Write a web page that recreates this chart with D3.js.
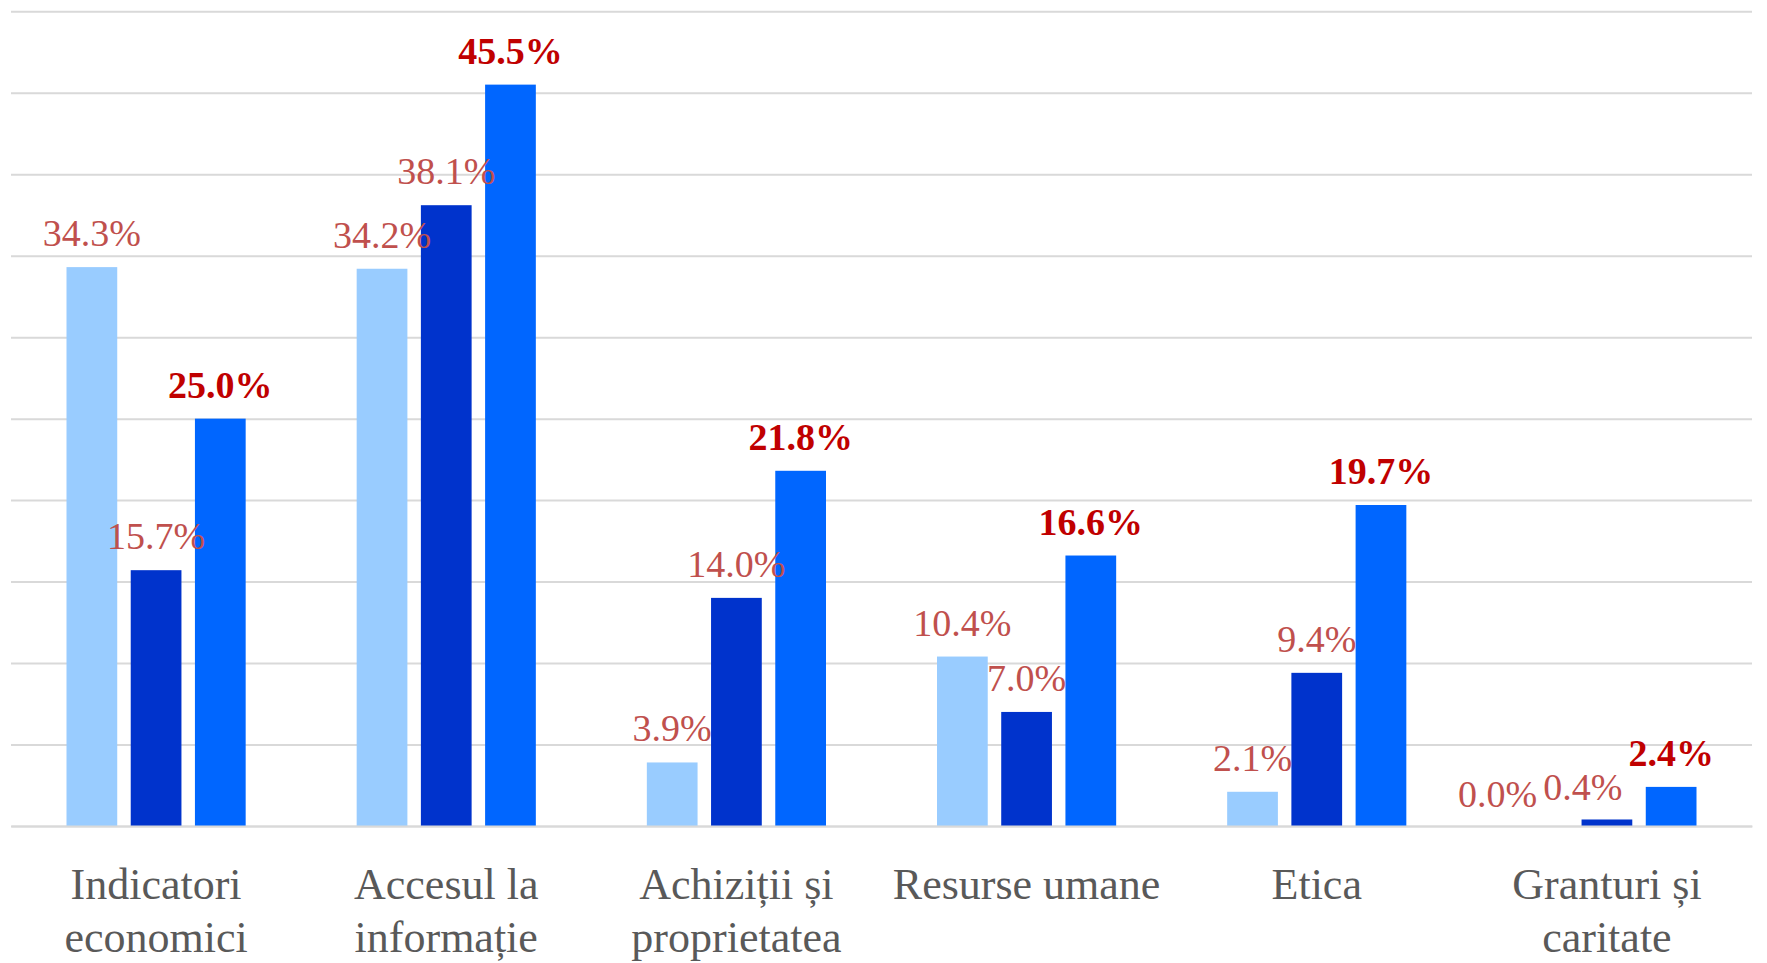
<!DOCTYPE html>
<html>
<head>
<meta charset="utf-8">
<script src="https://cdn.jsdelivr.net/npm/d3@7"></script>
<style>
  html, body { margin: 0; padding: 0; background: #fff; }
  svg { display: block; }
</style>
</head>
<body>
<svg id="chart" width="1767" height="963"></svg>
<script>
const categories = ["Indicatori economici", "Accesul la informație", "Achiziții și proprietatea", "Resurse umane", "Etica", "Granturi și caritate"];
const seriesNames = ["Seria 1", "Seria 2", "Seria 3"];
const series1 = [34.3, 34.2, 3.9, 10.4, 2.1, 0.0];
const series2 = [15.7, 38.1, 14.0, 7.0, 9.4, 0.4];
const series3 = [25.0, 45.5, 21.8, 16.6, 19.7, 2.4];
const yTicks = [0, 5, 10, 15, 20, 25, 30, 35, 40, 45, 50];

(function () {
const seriesValues = [series1, series2, series3];
const colors = ["#99CCFF", "#0033CC", "#0066FF"];
const labelColors = ["#C0504D", "#C0504D", "#C00000"];
const labelWeights = ["normal", "normal", "bold"];

const svg = d3.select("#chart");
const mLeft = 11, mRight = 1752, mTop = 11.3, mBottom = 826;

const x0 = d3.scaleBand().domain(categories).range([mLeft, mRight]).padding(0);
const inner = 55.5;
const x1 = d3.scaleBand().domain(seriesNames).range([inner, x0.bandwidth() - inner]).paddingInner(0.21);
const y = d3.scaleLinear().domain([0, 50]).range([mBottom, mTop]);

// gridlines
const grid = svg.append("g")
  .attr("transform", `translate(${mLeft},0)`)
  .call(d3.axisLeft(y).tickValues(yTicks).tickSize(-(mRight - mLeft)).tickFormat(""));
grid.select(".domain").remove();
grid.selectAll(".tick line").attr("stroke", "#D9D9D9").attr("stroke-width", 2);

const data = [];
categories.forEach((c, i) => {
  seriesNames.forEach((s, j) => {
    data.push({ cat: c, ci: i, ser: s, j: j, v: seriesValues[j][i] });
  });
});

const groups = svg.append("g");
groups.selectAll("rect").data(data).enter().append("rect")
  .attr("x", d => x0(d.cat) + x1(d.ser))
  .attr("y", d => y(d.v))
  .attr("width", x1.bandwidth())
  .attr("height", d => y(0) - y(d.v))
  .attr("fill", d => colors[d.j]);

const labels = groups.selectAll("text.val").data(data).enter().append("text")
  .attr("class", "val")
  .attr("x", d => x0(d.cat) + x1(d.ser) + x1.bandwidth() / 2)
  .attr("y", d => y(d.v) - (d.v < 1 ? 19 : 21))
  .attr("text-anchor", "middle")
  .attr("font-family", "'Liberation Serif', 'DejaVu Serif', serif")
  .attr("font-size", 38)
  .attr("font-weight", d => labelWeights[d.j])
  .attr("fill", d => labelColors[d.j])
  .text(d => d.v.toFixed(1) + "%");

// keep labels inside the chart area, and push apart overlapping neighbours
labels.each(function (d) {
  const b = this.getBBox();
  d.box = { x: b.x, y: b.y, w: b.width, h: b.height };
  if (b.x + b.width > mRight) {
    const dx = mRight - (b.x + b.width);
    d3.select(this).attr("x", +d3.select(this).attr("x") + dx);
    d.box.x += dx;
  }
});
const nodes = labels.nodes();
for (let k = nodes.length - 1; k > 0; k--) {
  const a = d3.select(nodes[k - 1]).datum(), b = d3.select(nodes[k]).datum();
  if (a.ci !== b.ci) continue;
  const overlapX = a.box.x + a.box.w + 6 - b.box.x;
  const overlapY = Math.min(a.box.y + a.box.h, b.box.y + b.box.h) - Math.max(a.box.y, b.box.y);
  if (overlapX > 0 && overlapY > 0) {
    const sel = d3.select(nodes[k - 1]);
    sel.attr("x", +sel.attr("x") - overlapX);
    a.box.x -= overlapX;
  }
}

// x axis
const xAxis = svg.append("g")
  .attr("transform", `translate(0,${mBottom})`)
  .call(d3.axisBottom(x0).tickSize(0).tickFormat(""));
xAxis.select(".domain").attr("stroke", "#D9D9D9").attr("stroke-width", 2);

const labelG = svg.append("g");
categories.forEach(c => {
  const cx = x0(c) + x0.bandwidth() / 2;
  const t = labelG.append("text")
    .attr("x", cx).attr("y", 899)
    .attr("text-anchor", "middle")
    .attr("font-family", "'Liberation Serif', 'DejaVu Serif', serif")
    .attr("font-size", 44)
    .attr("fill", "#595959");
  const words = c.split(" ");
  let line = [];
  let lineNo = 0;
  let ts = t.append("tspan").attr("x", cx).attr("y", 899);
  words.forEach(w => {
    line.push(w);
    ts.text(line.join(" "));
    if (ts.node().getComputedTextLength() > x0.bandwidth() - 10 && line.length > 1) {
      line.pop();
      ts.text(line.join(" "));
      line = [w];
      lineNo++;
      ts = t.append("tspan").attr("x", cx).attr("y", 899 + lineNo * 53).text(w);
    }
  });
});
})();
</script>
</body>
</html>
